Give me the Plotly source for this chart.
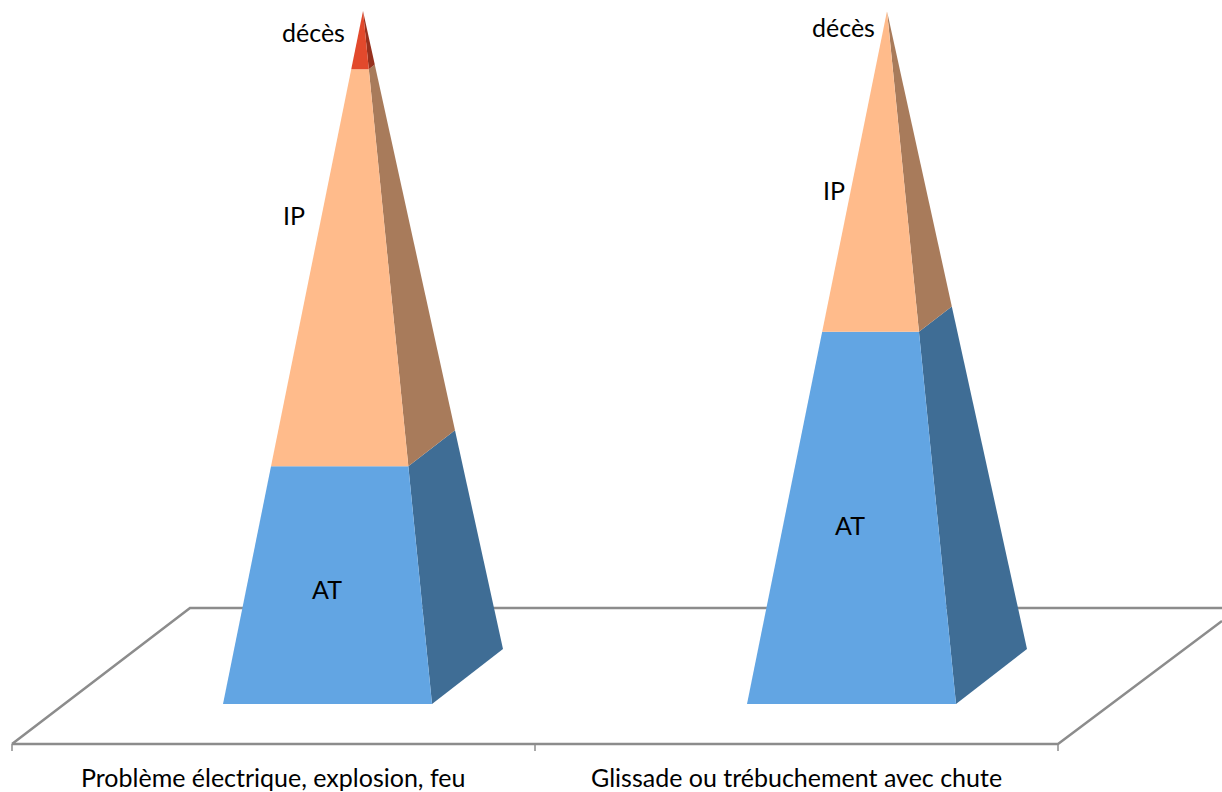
import plotly.graph_objects as go

# Data (share of each severity level, %)
categories = ["Problème électrique, explosion, feu", "Glissade ou trébuchement avec chute"]
series_names = ["AT", "IP", "décès"]
at_values = [34.3, 53.7]
ip_values = [57.3, 46.2]
deces_values = [8.4, 0.1]

front_colors = ["#62A5E3", "#FFBB8B", "#E2492C"]
side_colors = ["#3F6D95", "#A87B5B", "#96301D"]

label_pos = {
    0: {"AT": (327, 589), "IP": (294, 215), "décès": (313, 32)},
    1: {"AT": (850, 525), "IP": (834, 190), "décès": (843, 27)},
}

# Projection of the 3D plot onto the page
BASE_Y = 704
APEX_Y = 11
BASE_W = 209
DEPTH_X = 71
DEPTH_Y = 55
BASE_LEFT = [223, 747]
APEX_X_OFF = 140
FLOOR_Y = 744
FLOOR_BACK_Y = 608
FLOOR_L, FLOOR_M, FLOOR_R = 12, 535, 1058
FLOOR_SHIFT = 178
LINE = "#8C8C8C"


def front(i, frac):
    """Left and right front-edge points at a cumulative fraction of the height."""
    y = BASE_Y + (APEX_Y - BASE_Y) * frac
    ax = BASE_LEFT[i] + APEX_X_OFF
    xl = BASE_LEFT[i] + (ax - BASE_LEFT[i]) * frac
    xr = BASE_LEFT[i] + BASE_W + (ax - BASE_LEFT[i] - BASE_W) * frac
    return (xl, y), (xr, y)


def back(i, frac):
    ax = BASE_LEFT[i] + APEX_X_OFF
    bx = BASE_LEFT[i] + BASE_W + DEPTH_X
    by = BASE_Y - DEPTH_Y
    return (bx + (ax - bx) * frac, by + (APEX_Y - by) * frac)


def poly(fig, pts, color):
    fig.add_trace(go.Scatter(
        x=[p[0] for p in pts] + [pts[0][0]],
        y=[p[1] for p in pts] + [pts[0][1]],
        mode="lines", fill="toself", fillcolor=color,
        line=dict(color=color, width=0), hoverinfo="skip", showlegend=False))


def seg(fig, xs, ys, width=2):
    fig.add_trace(go.Scatter(x=xs, y=ys, mode="lines",
                             line=dict(color=LINE, width=width),
                             hoverinfo="skip", showlegend=False))


fig = go.Figure()

# floor
seg(fig, [FLOOR_L, FLOOR_L + FLOOR_SHIFT, 1222], [FLOOR_Y, FLOOR_BACK_Y, FLOOR_BACK_Y], 2.5)
seg(fig, [1222, FLOOR_R, FLOOR_L], [621, FLOOR_Y, FLOOR_Y], 2.5)
for tx in (FLOOR_L, FLOOR_M, FLOOR_R):
    seg(fig, [tx, tx], [FLOOR_Y, FLOOR_Y + 7], 1.5)

# pyramids
for i in range(len(categories)):
    vals = [at_values[i], ip_values[i], deces_values[i]]
    total = sum(vals)
    cum = 0
    for k, v in enumerate(vals):
        f0 = cum / total
        cum += v
        f1 = cum / total
        (l0, r0), (l1, r1) = front(i, f0), front(i, f1)
        poly(fig, [r0, back(i, f0), back(i, f1), r1], side_colors[k])
        poly(fig, [l0, r0, r1, l1], front_colors[k])
    for name in series_names:
        px, py = label_pos[i][name]
        fig.add_annotation(x=px, y=py, text=name, showarrow=False,
                           font=dict(family="Lato", size=25, color="#000000"))

# category labels
for x0, x1, c in zip((FLOOR_L, FLOOR_M), (FLOOR_M, FLOOR_R), categories):
    fig.add_annotation(x=(x0 + x1) / 2 - 0.5, y=776.5, text=c, showarrow=False,
                       font=dict(family="Lato", size=25, color="#000000"))

fig.update_layout(
    width=1222, height=792, margin=dict(l=0, r=0, t=0, b=0),
    paper_bgcolor="white", plot_bgcolor="white", showlegend=False,
    xaxis=dict(range=[0, 1222], visible=False, fixedrange=True),
    yaxis=dict(range=[792, 0], visible=False, fixedrange=True),
)
fig.write_html("out.html", config={"displayModeBar": False},
               post_script="document.body.style.margin='0';document.body.style.overflow='hidden';")
